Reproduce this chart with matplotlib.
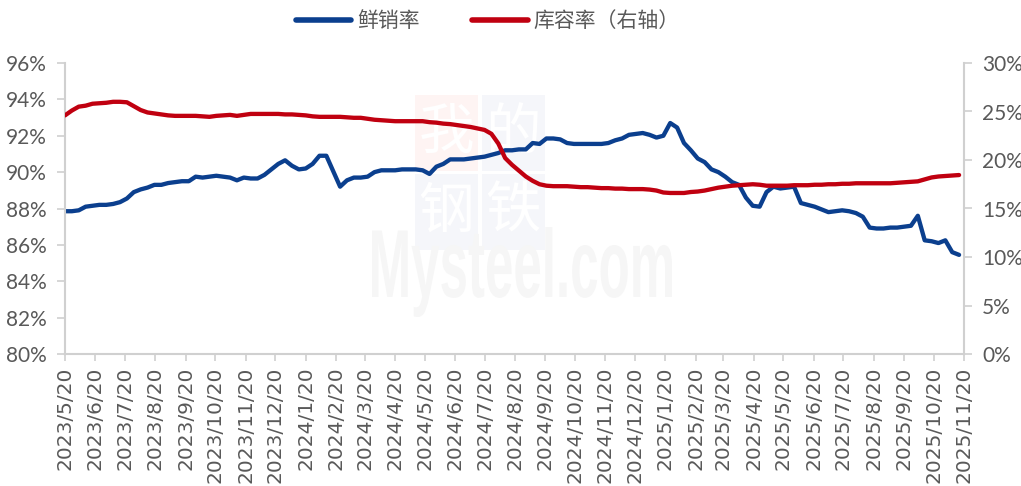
import numpy as np
import pandas as pd
import matplotlib
matplotlib.use("Agg")
import matplotlib.pyplot as plt
import matplotlib.dates as mdates
from matplotlib.ticker import FuncFormatter, FixedLocator
from matplotlib.textpath import TextPath
from matplotlib.patches import PathPatch, Rectangle
from matplotlib.font_manager import FontProperties
from matplotlib.transforms import Affine2D

# ---------------- data ----------------
start_date = "2023-05-20"
n_weeks = 131

sell_rate = [  # 鲜销率 (%), left axis
    87.85, 87.85, 87.9, 88.1, 88.15, 88.2, 88.2, 88.25, 88.35, 88.55,
    88.9, 89.05, 89.15, 89.3, 89.3, 89.4, 89.45, 89.5, 89.5, 89.75,
    89.7, 89.75, 89.8, 89.75, 89.7, 89.55, 89.7, 89.65, 89.65, 89.85,
    90.15, 90.45, 90.65, 90.35, 90.15, 90.2, 90.45, 90.9, 90.9, 90.05,
    89.2, 89.55, 89.7, 89.7, 89.75, 90.0, 90.1, 90.1, 90.1, 90.15,
    90.15, 90.15, 90.1, 89.9, 90.3, 90.45, 90.7, 90.7, 90.7, 90.75,
    90.8, 90.85, 90.95, 91.05, 91.2, 91.2, 91.25, 91.25, 91.6, 91.55,
    91.85, 91.85, 91.8, 91.6, 91.55, 91.55, 91.55, 91.55, 91.55, 91.6,
    91.75, 91.85, 92.05, 92.1, 92.15, 92.05, 91.9, 92.0, 92.7, 92.45,
    91.6, 91.2, 90.75, 90.55, 90.15, 90.0, 89.75, 89.45, 89.3, 88.6,
    88.15, 88.1, 88.9, 89.2, 89.1, 89.15, 89.2, 88.3, 88.2, 88.1,
    87.95, 87.8, 87.85, 87.9, 87.85, 87.75, 87.55, 86.95, 86.9, 86.9,
    86.95, 86.95, 87.0, 87.05, 87.6, 86.25, 86.2, 86.1, 86.25, 85.6,
    85.45,
]

storage_rate = [  # 库容率 (%), right axis
    24.6, 25.1, 25.5, 25.6, 25.8, 25.85, 25.9, 26.0, 26.0, 25.95,
    25.55, 25.15, 24.9, 24.8, 24.7, 24.6, 24.55, 24.55, 24.55, 24.55,
    24.5, 24.45, 24.55, 24.6, 24.65, 24.55, 24.65, 24.75, 24.75, 24.75,
    24.75, 24.75, 24.7, 24.7, 24.65, 24.6, 24.5, 24.45, 24.45, 24.45,
    24.45, 24.4, 24.35, 24.35, 24.25, 24.15, 24.1, 24.05, 24.0, 24.0,
    24.0, 24.0, 24.0, 23.9, 23.85, 23.75, 23.7, 23.6, 23.5, 23.4,
    23.25, 23.1, 22.7, 21.7, 20.2, 19.5, 18.9, 18.3, 17.85, 17.5,
    17.35, 17.3, 17.3, 17.3, 17.25, 17.2, 17.2, 17.15, 17.1, 17.1,
    17.05, 17.05, 17.0, 17.0, 17.0, 16.95, 16.85, 16.65, 16.6, 16.6,
    16.6, 16.7, 16.75, 16.85, 17.0, 17.15, 17.25, 17.35, 17.4, 17.45,
    17.5, 17.45, 17.35, 17.35, 17.35, 17.35, 17.4, 17.4, 17.4, 17.45,
    17.45, 17.5, 17.5, 17.55, 17.55, 17.6, 17.6, 17.6, 17.6, 17.6,
    17.6, 17.65, 17.7, 17.75, 17.8, 18.0, 18.2, 18.3, 18.35, 18.4,
    18.45,
]

series_names = ["鲜销率", "库容率（右轴）"]
left_ticks = [80, 82, 84, 86, 88, 90, 92, 94, 96]
right_ticks = [0, 5, 10, 15, 20, 25, 30]
x_start, x_end = "2023-05-20", "2025-11-20"

dates = pd.date_range(start_date, periods=n_weeks, freq="7D")

# ---------------- style ----------------
BLUE = "#0B3F8E"
RED = "#C00010"
GRAY_TXT = "#595959"
AXIS_C = "#D0D0D0"

fig = plt.figure(figsize=(10.21, 4.86), dpi=100)
ax = fig.add_axes([65 / 1021, 1 - 354 / 486, (964 - 65) / 1021, (354 - 63) / 486])
ax2 = ax.twinx()

# watermark
def add_scaled_text(s, x0, y0, w, h, color, weight="bold", family="Liberation Sans"):
    fp = FontProperties(family=family, weight=weight)
    tp = TextPath((0, 0), s, size=100, prop=fp)
    bb = tp.get_extents()
    tr = Affine2D().translate(-bb.x0, -bb.y0).scale(w / bb.width, h / bb.height).translate(x0, y0)
    path = tr.transform_path(tp)
    patch = PathPatch(path, facecolor=color, edgecolor="none", transform=None, zorder=0)
    fig.patches.append(patch)

H = 486
fig.patches.append(Rectangle((415, H - 171), 63, 76, transform=None, facecolor="#FEF4F3", edgecolor="none", zorder=0))
fig.patches.append(Rectangle((482, H - 171), 63, 76, transform=None, facecolor="#F5F6FA", edgecolor="none", zorder=0))
fig.patches.append(Rectangle((415, H - 250), 63, 76, transform=None, facecolor="#F5F6FA", edgecolor="none", zorder=0))
fig.patches.append(Rectangle((482, H - 250), 63, 76, transform=None, facecolor="#F5F6FA", edgecolor="none", zorder=0))
for ch, cx, cy in [("我", 446, 133), ("的", 513, 133), ("钢", 446, 212), ("铁", 513, 212)]:
    fig.text(cx / 1021, 1 - cy / 486, ch, ha="center", va="center", fontsize=40,
             family="Noto Sans CJK SC", color="white", zorder=0)
add_scaled_text("Mysteel.com", 372, H - 317, 300, 90, "#F6F6F6")

ax.set_zorder(2)
ax2.set_zorder(3)
ax.patch.set_visible(False)
ax2.patch.set_visible(False)

l1, = ax.plot(dates, sell_rate, color=BLUE, lw=3.1, solid_joinstyle="round", solid_capstyle="round")
l2, = ax2.plot(dates, storage_rate, color=RED, lw=3.1, solid_joinstyle="round", solid_capstyle="round")

ax.set_xlim(pd.Timestamp(x_start), pd.Timestamp(x_end))
ax.set_ylim(80, 96)
ax2.set_ylim(0, 30)

ax.xaxis.set_major_locator(mdates.MonthLocator(bymonthday=20))
ax.xaxis.set_major_formatter(FuncFormatter(
    lambda v, p: (lambda d: f"{d.year}/{d.month}/{d.day}")(mdates.num2date(v))))
ax.yaxis.set_major_locator(FixedLocator(left_ticks))
ax.yaxis.set_major_formatter(FuncFormatter(lambda v, p: f"{v:.0f}%"))
ax2.yaxis.set_major_locator(FixedLocator(right_ticks))
ax2.yaxis.set_major_formatter(FuncFormatter(lambda v, p: f"{v:.0f}%"))

for a in (ax, ax2):
    for s in a.spines.values():
        s.set_visible(False)
ax.spines["left"].set_visible(True)
ax.spines["bottom"].set_visible(True)
ax2.spines["right"].set_visible(True)
for s in (ax.spines["left"], ax.spines["bottom"], ax2.spines["right"]):
    s.set_color(AXIS_C)
    s.set_linewidth(1.5)

ax.tick_params(axis="x", direction="out", length=5, width=1.2, color=AXIS_C,
               labelsize=14.5, labelcolor=GRAY_TXT, pad=4, labelrotation=90)
ax.tick_params(axis="y", direction="out", length=6, width=1.2, color=AXIS_C,
               labelsize=15, labelcolor=GRAY_TXT, pad=7)
ax2.tick_params(axis="y", direction="out", length=6, width=1.2, color=AXIS_C,
                labelsize=15, labelcolor=GRAY_TXT, pad=7)
for lab in ax.get_xticklabels():
    lab.set_family("DejaVu Sans")
for lab in ax.get_yticklabels() + ax2.get_yticklabels():
    lab.set_family("Lato")

leg = fig.legend([l1, l2], series_names, loc="center", bbox_to_anchor=(488 / 1021, 1 - 21 / 486),
                 ncol=2, frameon=False, handlelength=2.65, handletextpad=0.3, columnspacing=2.5,
                 prop=FontProperties(family=["Noto Sans CJK SC", "DejaVu Sans"], size=15))
for t in leg.get_texts():
    t.set_color(GRAY_TXT)
for h in leg.legend_handles:
    h.set_linewidth(4)

fig.savefig("out.png", dpi=100)
